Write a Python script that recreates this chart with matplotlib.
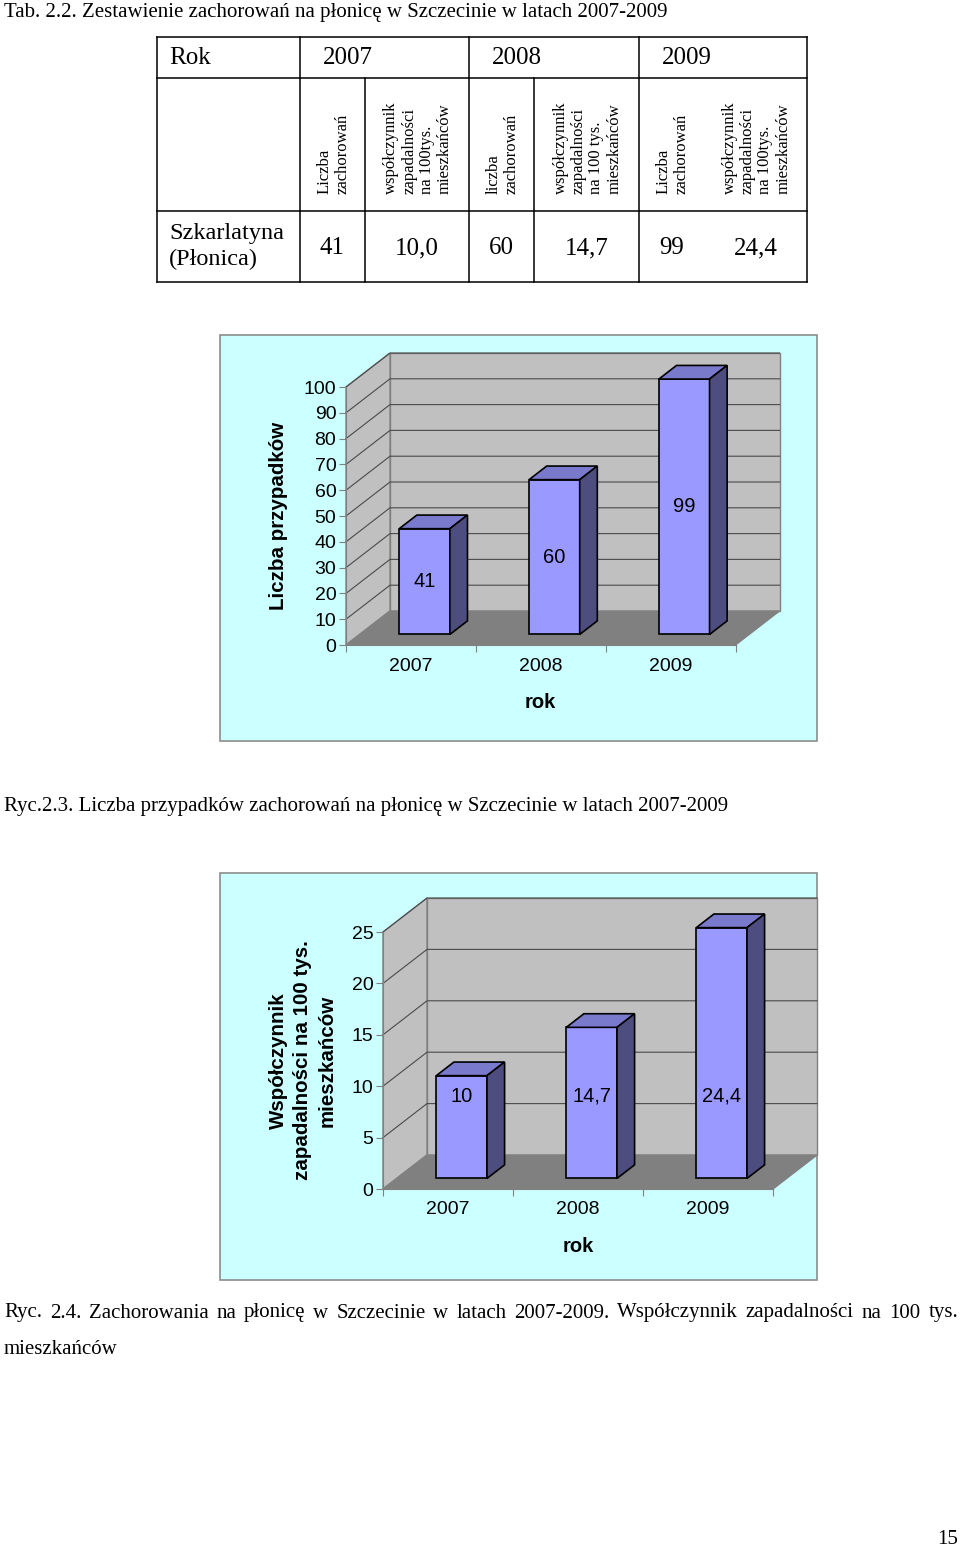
import matplotlib.pyplot as plt
from matplotlib.patches import Polygon, Rectangle
import numpy as np

plt.rcParams["font.family"] = ["Liberation Sans", "DejaVu Sans"]
SERIF = ["Liberation Serif", "DejaVu Serif"]

W, H = 960, 1547

# dane
lata = ["2007", "2008", "2009"]
liczba = [41, 60, 99]
wspolczynnik = [10.0, 14.7, 24.4]
wsp_etykiety = ["10", "14,7", "24,4"]
liczba_ticks = np.arange(0, 101, 10)
wsp_ticks = np.arange(0, 26, 5)

tab_naglowki = [
    "Liczba\nzachorowań",
    "współczynnik\nzapadalności\nna 100tys.\nmieszkańców",
    "liczba\nzachorowań",
    "współczynnik\nzapadalności\nna 100 tys.\nmieszkańców",
    "Liczba\nzachorowań",
    "współczynnik\nzapadalności\nna 100tys.\nmieszkańców",
]
tab_wartosci = ["41", "10,0", "60", "14,7", "99", "24,4"]

fig = plt.figure(figsize=(W / 100, H / 100), dpi=100)
page = fig.add_axes([0, 0, 1, 1])
page.set_xlim(0, W)
page.set_ylim(H, 0)
page.axis("off")

# ---- tabela ----
page.text(4, 13, "Tab. 2.2. Zestawienie zachorowań na płonicę w Szczecinie w latach 2007-2009",
          fontsize=15, family=SERIF, va="center")

col_x = [157, 300, 469, 639, 807]
sub_x = [300, 365, 469, 534, 639, 704, 807]
row_y = [37, 78, 211, 282]
lk = dict(color="black", lw=1.1)
for y in row_y:
    page.plot([col_x[0], col_x[-1]], [y, y], **lk)
page.plot([col_x[0], col_x[0]], [row_y[0], row_y[-1]], **lk)
page.plot([col_x[-1], col_x[-1]], [row_y[0], row_y[-1]], **lk)
for x in col_x[1:-1]:
    page.plot([x, x], [row_y[0], row_y[-1]], **lk)
for x in sub_x[1::2][:-1]:
    page.plot([x, x], [row_y[1], row_y[-1]], **lk)

page.text(169, 58, "Rok", fontsize=18, family=SERIF, va="center")
for x, rok in zip(col_x[1:-1], lata):
    page.text(x + 23, 58, rok, fontsize=18, family=SERIF, va="center")

for i, txt in enumerate(tab_naglowki):
    xc = (sub_x[i] + sub_x[i + 1]) / 2
    page.text(xc + 1, 194, txt, rotation=90, fontsize=12, family=SERIF,
              ha="center", va="bottom", multialignment="left", linespacing=1.15)

page.text(169, 247, "Szkarlatyna\n(Płonica)", fontsize=17.5, family=SERIF,
          va="center", linespacing=1.3)
for i, v in enumerate(tab_wartosci):
    xc = (sub_x[i] + sub_x[i + 1]) / 2
    page.text(xc, 248, v, fontsize=18, family=SERIF, ha="center", va="center")


# ---- wykresy 3D ----
def wykres(box, front, ticks, values, labels, ylabel, label_h=None):
    bx0, by0, bx1, by1 = box
    page.add_patch(Rectangle((bx0, by0), bx1 - bx0, by1 - by0,
                             facecolor="#CCFFFF", edgecolor="#8C8C8C", lw=1.2))
    fx0, fyb, fx1, fyt = front
    ax = fig.add_axes([fx0 / W, 1 - fyb / H, (fx1 - fx0) / W, (fyb - fyt) / H])
    ymax = ticks[-1]
    ax.set_xlim(0, 3)
    ax.set_ylim(0, ymax)
    ax.patch.set_visible(False)
    dx = 44 / ((fx1 - fx0) / 3)
    dy = 34 / ((fyb - fyt) / ymax)

    wall = dict(closed=True, facecolor="#C0C0C0", edgecolor="#808080", lw=1, clip_on=False)
    ax.add_patch(Polygon([(dx, dy), (3 + dx, dy), (3 + dx, ymax + dy), (dx, ymax + dy)],
                         zorder=0.5, **wall))
    ax.add_patch(Polygon([(0, 0), (dx, dy), (dx, ymax + dy), (0, ymax)], zorder=0.5, **wall))
    ax.add_patch(Polygon([(0, 0), (3, 0), (3 + dx, dy), (dx, dy)], closed=True,
                         facecolor="#808080", edgecolor="#808080", lw=1, zorder=0.6,
                         clip_on=False))
    for t in ticks[1:]:
        ax.plot([0, dx, 3 + dx], [t, t + dy, t + dy], color="#4A4A4A", lw=0.8,
                zorder=0.7, clip_on=False)

    z0, z1 = 0.31, 0.71
    bw = 0.39
    xf = np.arange(3) + 0.5 + z0 * dx
    b = z0 * dy
    ddx, ddy = (z1 - z0) * dx, (z1 - z0) * dy
    ax.bar(xf, values, width=bw, bottom=b, color="#9999FF", edgecolor="black",
           lw=1.2, zorder=3, clip_on=False)
    for xi, v, lab in zip(xf, values, labels):
        xl, xr, top = xi - bw / 2, xi + bw / 2, b + v
        ax.add_patch(Polygon([(xl, top), (xr, top), (xr + ddx, top + ddy), (xl + ddx, top + ddy)],
                             closed=True, facecolor="#7A7ACC", edgecolor="black", lw=1.2,
                             zorder=3, clip_on=False))
        ax.add_patch(Polygon([(xr, b), (xr + ddx, b + ddy), (xr + ddx, top + ddy), (xr, top)],
                             closed=True, facecolor="#4D4D80", edgecolor="black", lw=1.2,
                             zorder=3, clip_on=False))
        ly = b + v / 2 if label_h is None else b + label_h
        ax.text(xi, ly, lab, ha="center", va="center", fontsize=14.5, zorder=4)

    for s in ["top", "right"]:
        ax.spines[s].set_visible(False)
    for s in ["left", "bottom"]:
        ax.spines[s].set_color("#808080")
        ax.spines[s].set_zorder(1)
    ax.set_yticks(ticks)
    ax.set_yticklabels([str(t) for t in ticks])
    ax.tick_params(axis="y", direction="out", length=5, color="#808080", labelsize=14, pad=2)
    ax.set_xticks([0, 1, 2, 3])
    ax.set_xticklabels([])
    ax.set_xticks(np.arange(3) + 0.5, minor=True)
    ax.set_xticklabels(lata, minor=True)
    ax.tick_params(axis="x", which="major", direction="out", length=5, color="#808080")
    ax.tick_params(axis="x", which="minor", length=0, labelsize=14, pad=9)
    ax.set_xlabel("rok", fontsize=14.5, fontweight="bold", labelpad=13)
    ax.set_ylabel(ylabel, fontsize=14.8, fontweight="bold", labelpad=11, linespacing=1.35)
    return ax


wykres((220, 335, 817, 741), (346, 645, 735.5, 387), liczba_ticks, liczba,
       [str(v) for v in liczba], "Liczba przypadków")
page.text(4, 806, "Ryc.2.3. Liczba przypadków zachorowań na płonicę w Szczecinie w latach 2007-2009",
          fontsize=15, family=SERIF, va="center")

wykres((220, 873, 817, 1280), (383, 1189, 773, 932), wsp_ticks, wspolczynnik,
       wsp_etykiety, "Współczynnik\nzapadalności na 100 tys.\nmieszkańców", label_h=8.0)


# podpis wyjustowany
def justify(y, text, x0, x1, size):
    r = fig.canvas.get_renderer()
    ts = [page.text(0, y, w, fontsize=size, family=SERIF, va="center") for w in text.split()]
    widths = [t.get_window_extent(r).width for t in ts]
    gap = (x1 - x0 - sum(widths)) / (len(ts) - 1)
    x = x0
    for t, w in zip(ts, widths):
        t.set_x(x)
        x += w + gap


justify(1313, "Ryc. 2.4. Zachorowania na płonicę w Szczecinie w latach 2007-2009. "
        "Współczynnik zapadalności na 100 tys.", 4, 958, 15)
page.text(4, 1349, "mieszkańców", fontsize=15, family=SERIF, va="center")
page.text(958, 1539, "15", fontsize=15, family=SERIF, va="center", ha="right")

fig.savefig("out.png", dpi=100)
